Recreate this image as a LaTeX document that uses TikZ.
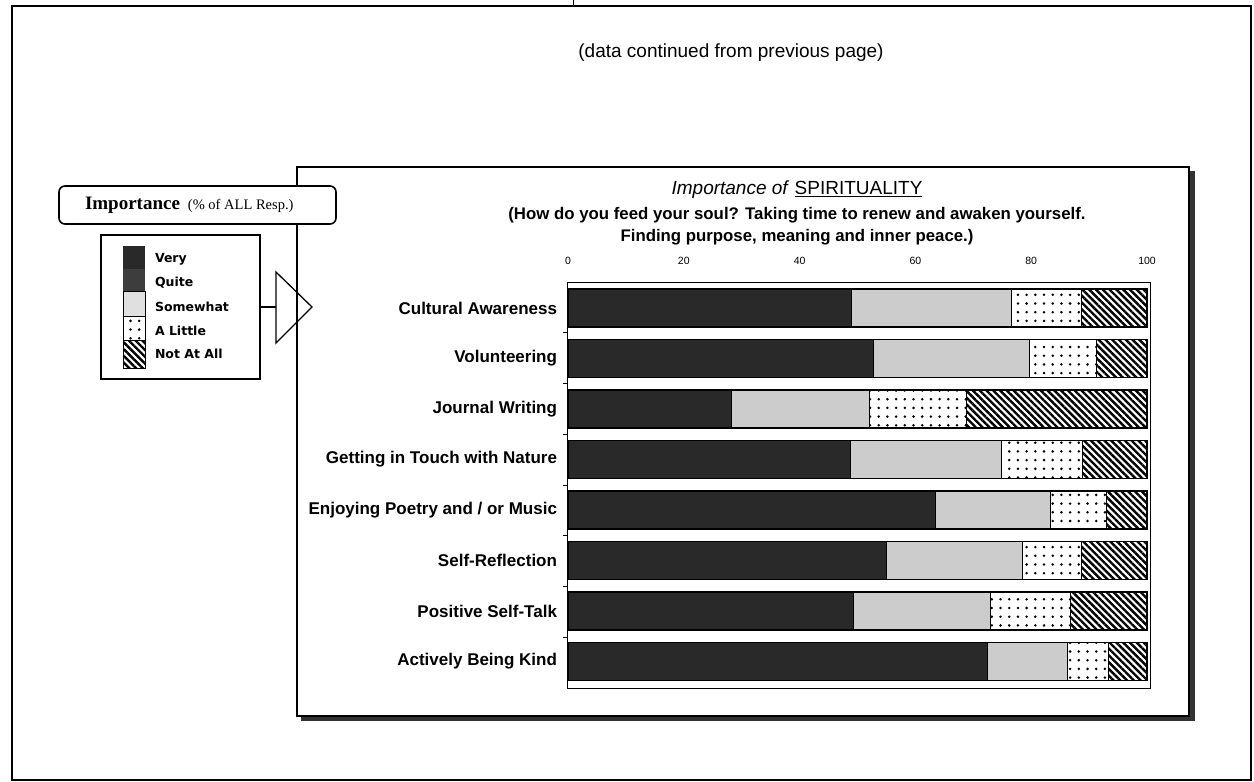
\documentclass[tikz,border=0pt]{standalone}
\usepackage{fontspec}
\setmainfont{Liberation Sans}
\newfontfamily\serfont{Liberation Serif}
\newfontfamily\keyfont{DejaVu Sans}
\definecolor{very}{gray}{0.16}
\definecolor{quite}{gray}{0.24}
\definecolor{somewhat}{gray}{0.80}
\definecolor{shadowgrey}{gray}{0.20}
\usetikzlibrary{patterns.meta}
\usetikzlibrary{positioning}
\tikzstyle{base}=[x=1pt, y=-1pt, inner sep=0pt, outer sep=0pt]
\tikzstyle{seg}=[draw=black, line width=0.8pt]
\tikzstyle{dotfill}=[seg, pattern={Dots[distance=8.7pt, radius=1.4pt]}]
\tikzstyle{hatchfill}=[seg, pattern={Lines[angle=-45, distance=4.8pt, line width=2.4pt]}]
\tikzstyle{catlabel}=[anchor=east, font=\fontsize{17}{19}\selectfont\bfseries]
\tikzstyle{ticklabel}=[font=\fontsize{10.5}{12}\selectfont]
\tikzstyle{keylabel}=[anchor=west, font=\keyfont\fontsize{12.5}{14}\selectfont\bfseries]

\begin{document}
\begin{tikzpicture}[base]
    \path [use as bounding box, fill=white] (0,0) rectangle (1254,782);
        \draw [line width=1.3pt] (12,6) rectangle (1251,780);
        \draw [line width=2.2pt] (12,6) -- (1251,6);
        \draw [line width=1pt] (573,0) -- (573,6);
        \node (cont) at (731,53) {\fontsize{19}{21}\selectfont (data continued from previous page)};
        \fill [shadowgrey] (301,171) rectangle (1195,721);
        \draw [line width=1.2pt, fill=white] (297,167) rectangle (1189,716);
        \node (title) at (797,190) {\fontsize{19}{21}\selectfont\textit{Importance of} \underline{SPIRITUALITY}};
        \node [below=8pt of title, font=\fontsize{16.8}{22}\selectfont\bfseries, align=center] (subtitle)
            {(How do you feed your soul? Taking time to renew and awaken yourself.\\Finding purpose, meaning and inner peace.)};
        \foreach \v in {0,20,...,100}
            \node [ticklabel] (tick\v) at ({568+5.79*\v},261) {\v};
        \draw [line width=0.8pt] (567,282) rectangle (1150,688);
        \foreach \k in {1,...,7}
            \draw [line width=0.6pt] (563,{282+50.75*\k}) -- (567,{282+50.75*\k});
        \foreach \lab/\a/\b/\c [count=\i] in {Cultural Awareness/49/76.5/88.6, Volunteering/52.8/79.7/91.2,
            Journal Writing/28.3/52/68.8, Getting in Touch with Nature/48.8/74.8/88.9,
            {Enjoying Poetry and / or Music}/63.4/83.4/93, Self-Reflection/55/78.4/88.6,
            Positive Self-Talk/49.3/73/86.7, Actively Being Kind/72.5/86.2/93.4} {
            \pgfmathsetmacro\yt{289+50.5*(\i-1)}
            \fill [very] (568,\yt) rectangle ({568+5.79*\a},{\yt+38});
            \draw [seg, fill=somewhat] ({568+5.79*\a},\yt) rectangle ({568+5.79*\b},{\yt+38});
            \draw [dotfill] ({568+5.79*\b},\yt) rectangle ({568+5.79*\c},{\yt+38});
            \draw [hatchfill] ({568+5.79*\c},\yt) rectangle (1147,{\yt+38});
            \draw [line width=1.2pt] (568,\yt) rectangle (1147,{\yt+38});
            \node [catlabel] (cat\i) at (557,{\yt+19}) {\lab};
        }
        \draw [line width=1.6pt, rounded corners=6pt, fill=white] (59,186) rectangle (336,224);
        \node [anchor=west] (keytitle) at (85,205)
            {\serfont\fontsize{19}{21}\selectfont\bfseries Importance\hspace{8pt}\fontsize{14.5}{16}\selectfont\mdseries(\% of ALL Resp.)};
        \node [draw, line width=1.3pt, minimum width=159pt, minimum height=144pt] (keybox) at (180.5,307) {};
        \fill [very] (123,246) rectangle (145,269);
        \fill [quite] (123,269) rectangle (145,291);
        \draw [seg, fill=somewhat!60] (123,291) rectangle (145,316);
        \draw [dotfill] (123,316) rectangle (145,340);
        \draw [hatchfill] (123,340) rectangle (145,368);
        \node [keylabel] (kvery) at (155,259) {Very};
        \node [keylabel] (kquite) at (155,283) {Quite};
        \node [keylabel] (ksome) at (155,307) {Somewhat};
        \node [keylabel] (klittle) at (155,331) {A Little};
        \node [keylabel] (knot) at (155,354) {Not At All};
        \coordinate (tribase) at (276,307);
        \draw [line width=1.3pt, line join=miter] (276,272) -- (312,307) -- (276,343) -- cycle;
        \draw [line width=1.3pt] (keybox.east) -- (tribase);
    \end{tikzpicture}
\end{document}
